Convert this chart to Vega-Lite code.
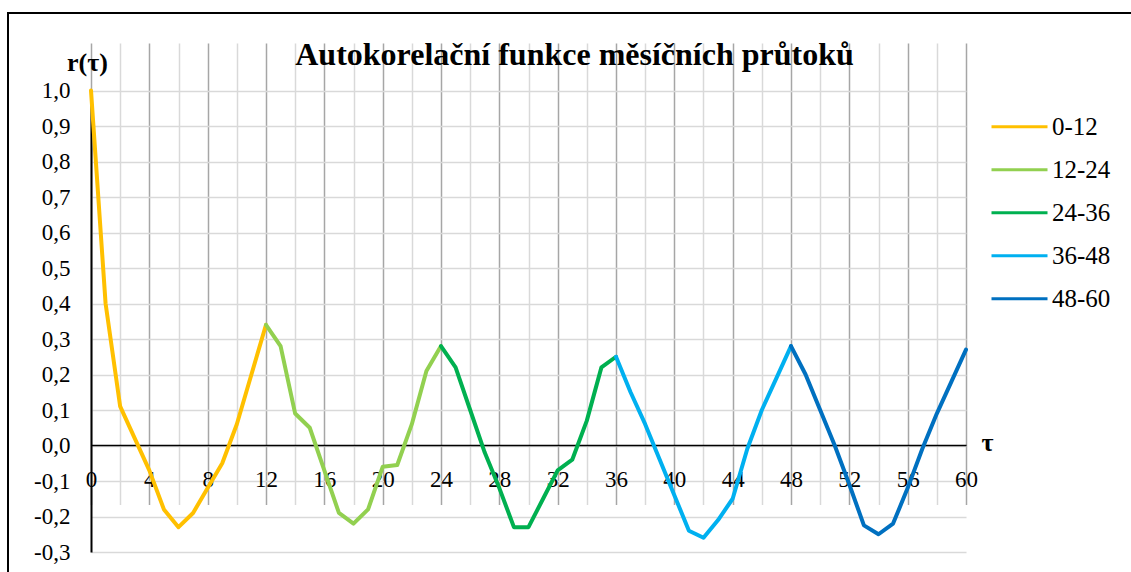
{
  "$schema": "https://vega.github.io/schema/vega-lite/v6.json",
  "autosize": {"type": "none"},
  "padding": {"left": 8, "top": 13, "right": -10, "bottom": -10},
  "width": 1133,
  "height": 569,
  "background": "white",
  "config": {"view": {"stroke": "black", "strokeWidth": 2}, "font": "Liberation Serif, Times New Roman, DejaVu Serif, serif"},
  "title": {"text": "Autokorelační funkce měsíčních průtoků", "font": "Liberation Serif, Times New Roman, DejaVu Serif, serif", "fontSize": 32, "fontWeight": "bold", "color": "black", "anchor": "middle", "baseline": "alphabetic", "offset": -84},
  "data": {"values": [
    {"t": 0, "r": 1.0, "s": "0-12"}, {"t": 1, "r": 0.40, "s": "0-12"}, {"t": 2, "r": 0.11, "s": "0-12"}, {"t": 3, "r": 0.02, "s": "0-12"}, {"t": 4, "r": -0.07, "s": "0-12"}, {"t": 5, "r": -0.18, "s": "0-12"}, {"t": 6, "r": -0.23, "s": "0-12"}, {"t": 7, "r": -0.19, "s": "0-12"}, {"t": 8, "r": -0.12, "s": "0-12"}, {"t": 9, "r": -0.05, "s": "0-12"}, {"t": 10, "r": 0.06, "s": "0-12"}, {"t": 11, "r": 0.20, "s": "0-12"}, {"t": 12, "r": 0.34, "s": "0-12"},
    {"t": 12, "r": 0.34, "s": "12-24"}, {"t": 13, "r": 0.28, "s": "12-24"}, {"t": 14, "r": 0.09, "s": "12-24"}, {"t": 15, "r": 0.05, "s": "12-24"}, {"t": 16, "r": -0.07, "s": "12-24"}, {"t": 17, "r": -0.19, "s": "12-24"}, {"t": 18, "r": -0.22, "s": "12-24"}, {"t": 19, "r": -0.18, "s": "12-24"}, {"t": 20, "r": -0.06, "s": "12-24"}, {"t": 21, "r": -0.055, "s": "12-24"}, {"t": 22, "r": 0.06, "s": "12-24"}, {"t": 23, "r": 0.21, "s": "12-24"}, {"t": 24, "r": 0.28, "s": "12-24"},
    {"t": 24, "r": 0.28, "s": "24-36"}, {"t": 25, "r": 0.22, "s": "24-36"}, {"t": 26, "r": 0.10, "s": "24-36"}, {"t": 27, "r": -0.02, "s": "24-36"}, {"t": 28, "r": -0.12, "s": "24-36"}, {"t": 29, "r": -0.23, "s": "24-36"}, {"t": 30, "r": -0.23, "s": "24-36"}, {"t": 31, "r": -0.15, "s": "24-36"}, {"t": 32, "r": -0.07, "s": "24-36"}, {"t": 33, "r": -0.04, "s": "24-36"}, {"t": 34, "r": 0.07, "s": "24-36"}, {"t": 35, "r": 0.22, "s": "24-36"}, {"t": 36, "r": 0.25, "s": "24-36"},
    {"t": 36, "r": 0.25, "s": "36-48"}, {"t": 37, "r": 0.15, "s": "36-48"}, {"t": 38, "r": 0.06, "s": "36-48"}, {"t": 39, "r": -0.04, "s": "36-48"}, {"t": 40, "r": -0.14, "s": "36-48"}, {"t": 41, "r": -0.24, "s": "36-48"}, {"t": 42, "r": -0.26, "s": "36-48"}, {"t": 43, "r": -0.21, "s": "36-48"}, {"t": 44, "r": -0.15, "s": "36-48"}, {"t": 45, "r": -0.01, "s": "36-48"}, {"t": 46, "r": 0.10, "s": "36-48"}, {"t": 47, "r": 0.19, "s": "36-48"}, {"t": 48, "r": 0.28, "s": "36-48"},
    {"t": 48, "r": 0.28, "s": "48-60"}, {"t": 49, "r": 0.20, "s": "48-60"}, {"t": 50, "r": 0.10, "s": "48-60"}, {"t": 51, "r": 0.00, "s": "48-60"}, {"t": 52, "r": -0.11, "s": "48-60"}, {"t": 53, "r": -0.225, "s": "48-60"}, {"t": 54, "r": -0.25, "s": "48-60"}, {"t": 55, "r": -0.22, "s": "48-60"}, {"t": 56, "r": -0.12, "s": "48-60"}, {"t": 57, "r": -0.01, "s": "48-60"}, {"t": 58, "r": 0.09, "s": "48-60"}, {"t": 59, "r": 0.18, "s": "48-60"}, {"t": 60, "r": 0.27, "s": "48-60"}
  ]},
  "mark": {"type": "line", "strokeWidth": 4, "strokeJoin": "round", "strokeCap": "round", "clip": false},
  "encoding": {
    "x": {
      "field": "t", "type": "quantitative",
      "scale": {"domain": [0, 60], "range": [83, 958], "nice": false, "zero": false},
      "axis": {
        "orient": "bottom", "offset": -137,
        "values": [0, 2, 4, 6, 8, 10, 12, 14, 16, 18, 20, 22, 24, 26, 28, 30, 32, 34, 36, 38, 40, 42, 44, 46, 48, 50, 52, 54, 56, 58, 60],
        "labelExpr": "datum.value % 4 === 0 ? datum.label : ''",
        "format": "d",
        "grid": true,
        "gridColor": {"condition": {"test": "datum.value % 4 === 0", "value": "#a6a6a6"}, "value": "#d9d9d9"},
        "gridWidth": 1.5,
        "domain": true, "domainColor": "black", "domainWidth": 1.5,
        "ticks": false, "tickSize": 0,
        "labelFont": "Liberation Serif, Times New Roman, DejaVu Serif, serif", "labelFontSize": 23, "labelColor": "black", "labelPadding": 23,
        "labelFlush": false, "labelOverlap": false,
        "title": "τ", "titleFont": "Liberation Serif, Times New Roman, DejaVu Serif, serif", "titleFontSize": 26, "titleFontWeight": "bold", "titleColor": "black",
        "titleX": 979, "titleY": 5, "titleBaseline": "alphabetic", "titleAlign": "center", "titleAngle": 0
      }
    },
    "y": {
      "field": "r", "type": "quantitative",
      "scale": {"domain": [-0.3, 1.0], "range": [539, 77.5], "nice": false, "zero": false},
      "axis": {
        "orient": "left", "offset": -83,
        "values": [-0.3, -0.2, -0.1, 0, 0.1, 0.2, 0.3, 0.4, 0.5, 0.6, 0.7, 0.8, 0.9, 1.0],
        "labelExpr": "replace(replace(format(datum.value, '.1f'), '.', ','), '−', '-')",
        "grid": true, "gridColor": "#d9d9d9", "gridWidth": 1.5,
        "domain": true, "domainColor": "black", "domainWidth": 2,
        "ticks": false, "tickSize": 0,
        "labelFont": "Liberation Serif, Times New Roman, DejaVu Serif, serif", "labelFontSize": 23, "labelColor": "black", "labelPadding": 21,
        "labelFlush": false, "labelOverlap": false,
        "title": "r(τ)", "titleFont": "Liberation Serif, Times New Roman, DejaVu Serif, serif", "titleFontSize": 26, "titleFontWeight": "bold", "titleColor": "black",
        "titleAngle": 0, "titleX": -4, "titleY": 49, "titleAlign": "center", "titleBaseline": "middle"
      }
    },
    "color": {
      "field": "s", "type": "nominal",
      "scale": {"domain": ["0-12", "12-24", "24-36", "36-48", "48-60"], "range": ["#FFC000", "#92D050", "#00B050", "#00B0F0", "#0070C0"]},
      "legend": {
        "orient": "none", "legendX": 982, "legendY": 92.5, "title": null,
        "symbolType": "stroke", "symbolSize": 3136, "symbolStrokeWidth": 3,
        "labelFont": "Liberation Serif, Times New Roman, DejaVu Serif, serif", "labelFontSize": 25, "labelColor": "black", "labelOffset": 3,
        "rowPadding": 0, "clipHeight": 42.4, "padding": 0
      }
    }
  }
}
